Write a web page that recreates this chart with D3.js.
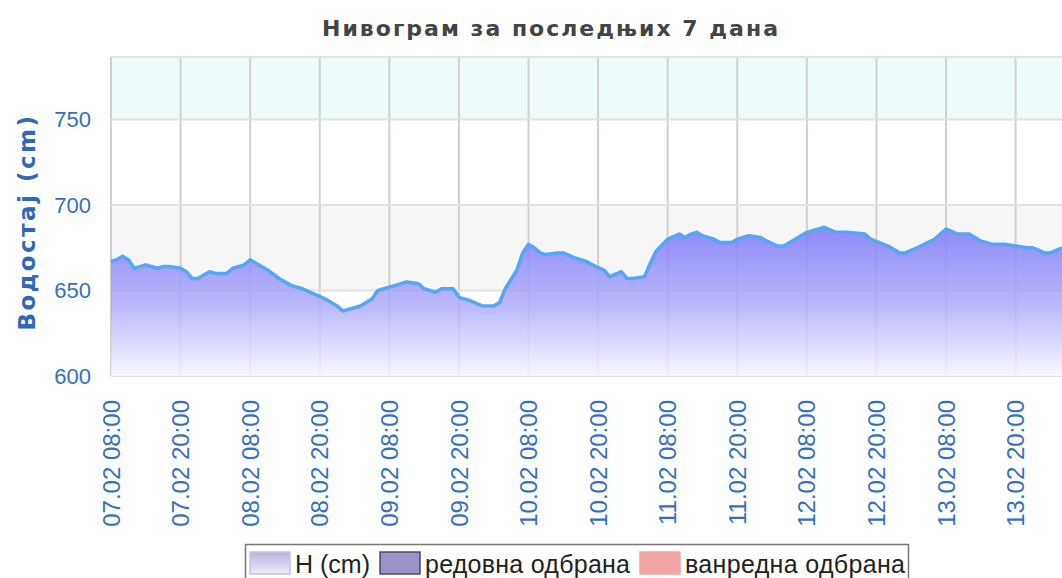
<!DOCTYPE html>
<html>
<head>
<meta charset="utf-8">
<script src="https://cdn.jsdelivr.net/npm/d3@7"></script>
<style>
  body { margin: 0; background: #fff; }
  svg { display: block; }
</style>
</head>
<body>
<div id="chart"></div>
<script>
// Water level readings (time, cm)
const times = [
  "07.02 08:00", "07.02 09:00", "07.02 10:00", "07.02 11:00", "07.02 12:00", "07.02 13:00", "07.02 14:00",
  "07.02 16:00", "07.02 17:00", "07.02 18:00", "07.02 20:00", "07.02 21:00", "07.02 22:00", "07.02 23:00",
  "08.02 00:00", "08.02 01:00", "08.02 02:00", "08.02 04:00", "08.02 05:00", "08.02 07:00", "08.02 08:00",
  "08.02 09:00", "08.02 11:00", "08.02 13:00", "08.02 15:00", "08.02 17:00", "08.02 19:00", "08.02 21:00",
  "08.02 23:00", "09.02 00:00", "09.02 02:00", "09.02 03:00", "09.02 05:00", "09.02 06:00", "09.02 08:00",
  "09.02 10:00", "09.02 11:00", "09.02 13:00", "09.02 14:00", "09.02 16:00", "09.02 17:00", "09.02 19:00",
  "09.02 20:00", "09.02 22:00", "10.02 00:00", "10.02 02:00", "10.02 03:00", "10.02 04:00", "10.02 06:00",
  "10.02 07:00", "10.02 08:00", "10.02 09:00", "10.02 10:00", "10.02 11:00", "10.02 13:00", "10.02 14:00",
  "10.02 16:00", "10.02 18:00", "10.02 19:00", "10.02 21:00", "10.02 22:00", "11.02 00:00", "11.02 01:00",
  "11.02 02:00", "11.02 04:00", "11.02 05:00", "11.02 06:00", "11.02 08:00", "11.02 10:00", "11.02 11:00",
  "11.02 12:00", "11.02 13:00", "11.02 14:00", "11.02 16:00", "11.02 17:00", "11.02 19:00", "11.02 20:00",
  "11.02 22:00", "12.02 00:00", "12.02 01:00", "12.02 03:00", "12.02 04:00", "12.02 06:00", "12.02 08:00",
  "12.02 11:00", "12.02 13:00", "12.02 15:00", "12.02 18:00", "12.02 19:00", "12.02 22:00", "13.02 00:00",
  "13.02 01:00", "13.02 03:00", "13.02 06:00", "13.02 08:00", "13.02 10:00", "13.02 12:00", "13.02 14:00",
  "13.02 16:00", "13.02 18:00", "13.02 20:00", "13.02 22:00", "13.02 23:00", "14.02 01:00", "14.02 02:00",
  "14.02 04:00"
];
const levels = [
  667, 668, 670, 668, 663, 664, 665,
  663, 664, 664, 663, 661, 657, 657,
  659, 661, 660, 660, 663, 665, 668,
  666, 662, 657, 653, 651, 648, 645,
  641, 638, 640, 641, 645, 650, 652,
  654, 655, 654, 651, 649, 651, 651,
  646, 644, 641, 641, 643, 651, 662,
  672, 677, 675, 672, 671, 672, 672,
  669, 667, 665, 662, 658, 661, 657,
  657, 658, 666, 673, 680, 683, 681,
  683, 684, 682, 680, 678, 678, 680,
  682, 681, 679, 676, 676, 680, 684,
  687, 684, 684, 683, 680, 676, 672,
  672, 675, 680, 686, 683, 683, 679,
  677, 677, 676, 675, 675, 672, 672,
  675
];

// Axis ticks
const xTickLabels = [
  "07.02 08:00", "07.02 20:00", "08.02 08:00", "08.02 20:00", "09.02 08:00", "09.02 20:00", "10.02 08:00",
  "10.02 20:00", "11.02 08:00", "11.02 20:00", "12.02 08:00", "12.02 20:00", "13.02 08:00", "13.02 20:00"
];
const yTicks = [600, 650, 700, 750];
const xDomain = ["07.02 08:00", "14.02 04:00"];

const legendItems = ["H (cm)", "редовна одбрана", "ванредна одбрана"];

const width = 1062, height = 578;
const margin = { top: 57, left: 111, right: 0, bottom: 202 };
const plotBottom = 376;

const parse = d3.timeParse("%d.%m %H:%M");
const data = times.map((t, i) => ({ t: parse(t), v: levels[i] }));

const svg = d3.select("#chart").append("svg")
  .attr("width", width)
  .attr("height", height);

const x = d3.scaleTime()
  .domain(xDomain.map(parse))
  .range([margin.left, width - margin.right]);

const y = d3.scaleLinear()
  .domain([600, 750])
  .range([plotBottom, 119.5]);

const yTop = y.invert(margin.top);

const defs = svg.append("defs");
const grad = defs.append("linearGradient")
  .attr("id", "areaGrad")
  .attr("gradientUnits", "userSpaceOnUse")
  .attr("x1", 0).attr("x2", 0)
  .attr("y1", y(690)).attr("y2", y(600));
grad.append("stop").attr("offset", "0%").attr("stop-color", "#7470f6");
grad.append("stop").attr("offset", "55%").attr("stop-color", "#adaafb");
grad.append("stop").attr("offset", "100%").attr("stop-color", "#f6f6ff");

const legGrad = defs.append("linearGradient")
  .attr("id", "legGrad")
  .attr("x1", 0).attr("x2", 0).attr("y1", 0).attr("y2", 1);
legGrad.append("stop").attr("offset", "0%").attr("stop-color", "#b7b3e2");
legGrad.append("stop").attr("offset", "100%").attr("stop-color", "#eeedf9");

// Background bands
svg.append("rect")
  .attr("x", margin.left).attr("width", width - margin.left)
  .attr("y", y(yTop)).attr("height", y(750) - y(yTop))
  .attr("fill", "#eefbfb");
svg.append("rect")
  .attr("x", margin.left).attr("width", width - margin.left)
  .attr("y", y(700)).attr("height", y(650) - y(700))
  .attr("fill", "#f6f6f6");

// Grid
svg.append("g")
  .selectAll("line")
  .data(xTickLabels.map(parse))
  .join("line")
  .attr("x1", d => x(d)).attr("x2", d => x(d))
  .attr("y1", margin.top).attr("y2", plotBottom)
  .attr("stroke", "#d0d0d0")
  .attr("stroke-width", 2);

svg.append("g")
  .selectAll("line")
  .data(yTicks.concat([yTop]))
  .join("line")
  .attr("x1", margin.left).attr("x2", width)
  .attr("y1", d => y(d)).attr("y2", d => y(d))
  .attr("stroke", "#e2e2e2")
  .attr("stroke-width", 2);

// Area + line
const area = d3.area()
  .x(d => x(d.t))
  .y0(y(600))
  .y1(d => y(d.v));

const line = d3.line()
  .x(d => x(d.t))
  .y(d => y(d.v));

svg.append("path")
  .datum(data)
  .attr("d", area)
  .attr("fill", "url(#areaGrad)")
  .attr("fill-opacity", 0.82);

svg.append("path")
  .datum(data)
  .attr("d", line)
  .attr("fill", "none")
  .attr("stroke", "#55a6f5")
  .attr("stroke-width", 3.5)
  .attr("stroke-linejoin", "round");

// Y axis labels
svg.append("g")
  .selectAll("text")
  .data(yTicks)
  .join("text")
  .attr("x", 91)
  .attr("y", d => y(d))
  .attr("dy", "0.36em")
  .attr("text-anchor", "end")
  .attr("fill", "#3570c0")
  .style("font-family", "Liberation Sans, Arial, sans-serif")
  .style("font-size", "22px")
  .text(d => d);

svg.append("text")
  .attr("transform", "translate(35,222) rotate(-90)")
  .attr("text-anchor", "middle")
  .attr("fill", "#2f68bb")
  .style("font-family", "DejaVu Sans, sans-serif")
  .style("font-weight", "bold")
  .style("font-size", "23px")
  .style("letter-spacing", "2.5px")
  .text("Водостај (cm)");

// X axis labels
svg.append("g")
  .selectAll("text")
  .data(xTickLabels)
  .join("text")
  .attr("transform", d => `translate(${x(parse(d))},400) rotate(-90)`)
  .attr("text-anchor", "end")
  .attr("dy", "0.36em")
  .attr("fill", "#3570c0")
  .style("font-family", "Liberation Sans, Arial, sans-serif")
  .style("font-size", "24px")
  .text(d => d);

// Title
svg.append("text")
  .attr("x", 551)
  .attr("y", 36)
  .attr("text-anchor", "middle")
  .attr("fill", "#444")
  .style("font-family", "DejaVu Sans, sans-serif")
  .style("font-weight", "bold")
  .style("font-size", "22px")
  .style("letter-spacing", "2px")
  .text("Нивограм за последњих 7 дана");

// Legend
const leg = svg.append("g");
leg.append("rect")
  .attr("x", 245.5).attr("y", 544.5)
  .attr("width", 663).attr("height", 40)
  .attr("fill", "#fff")
  .attr("stroke", "#777")
  .attr("stroke-width", 1.5);

const swatchX = [250, 380, 640];
const textX = [295, 425, 685];
const swatchFill = ["url(#legGrad)", "#9a92c8", "#f0a6a2"];
const swatchStroke = ["#c8c6de", "#4a4a6a", "#f0a6a2"];

legendItems.forEach((name, i) => {
  leg.append("rect")
    .attr("x", swatchX[i]).attr("y", 552)
    .attr("width", 40).attr("height", 22)
    .attr("fill", swatchFill[i])
    .attr("stroke", swatchStroke[i])
    .attr("stroke-width", 1.5);
  leg.append("text")
    .attr("x", textX[i])
    .attr("y", 564)
    .attr("dy", "0.36em")
    .attr("fill", "#222")
    .style("font-family", "Liberation Sans, Arial, sans-serif")
    .style("font-size", "25px")
    .attr("textLength", i === 0 ? null : (i === 1 ? 205 : 220))
    .text(name);
});
</script>
</body>
</html>
